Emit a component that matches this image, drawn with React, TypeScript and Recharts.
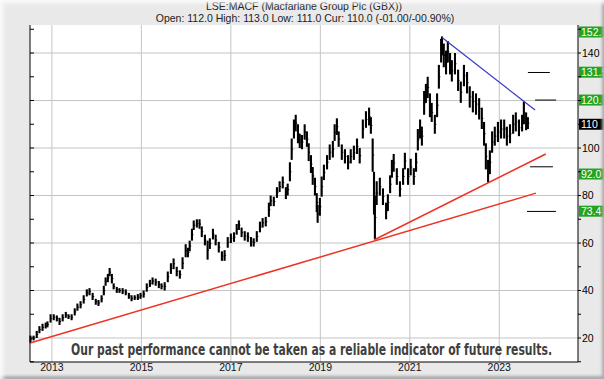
import React from 'react';
import {
  ComposedChart, Scatter, ErrorBar, XAxis, YAxis, CartesianGrid, ReferenceLine
} from 'recharts';

// price bars: [year, low, high]
const bars2012 = [
  [2012.52, 18, 21], [2012.59, 19, 21], [2012.66, 20, 23], [2012.72, 22, 25],
  [2012.79, 23, 26], [2012.86, 24, 26.5], [2012.90, 24.5, 27], [2012.97, 26.5, 30],
  [2013.04, 27.5, 30], [2013.11, 27, 29.5], [2013.17, 25.5, 28.5], [2013.24, 27, 30],
  [2013.31, 28.5, 31], [2013.37, 28, 30], [2013.44, 27.5, 30], [2013.51, 29.5, 32.5],
  [2013.57, 31.5, 34.5], [2013.64, 32.5, 35.5], [2013.71, 34.5, 38], [2013.78, 37.5, 40.5],
  [2013.84, 38, 41], [2013.91, 36, 39], [2013.98, 34, 36.5], [2014.04, 33.5, 36],
  [2014.11, 35, 38], [2014.16, 38, 42], [2014.20, 42, 45.5], [2014.25, 43.5, 47],
  [2014.29, 46, 49.5], [2014.34, 43, 47], [2014.38, 40.5, 43], [2014.45, 39, 41.5],
  [2014.51, 39, 41], [2014.58, 38.5, 41], [2014.65, 38, 40.5], [2014.72, 36.5, 39],
  [2014.78, 35.5, 38], [2014.85, 36, 38], [2014.92, 36, 38.5], [2014.98, 36.5, 39],
];

const bars2015 = [
  [2015.05, 37, 40], [2015.12, 39.5, 43], [2015.19, 41.5, 44.5], [2015.25, 42.5, 45.5],
  [2015.32, 42, 45], [2015.39, 41, 44], [2015.45, 40.5, 43], [2015.52, 40, 43.5],
  [2015.59, 43.5, 48], [2015.66, 47, 51.5], [2015.72, 49, 53.5], [2015.79, 46, 50],
  [2015.86, 45, 48.5], [2015.92, 49, 54], [2015.99, 54, 59.5], [2016.04, 54, 58],
  [2016.08, 56.5, 61], [2016.13, 61, 66], [2016.17, 65.5, 69.5], [2016.24, 66.5, 70],
  [2016.30, 66, 70], [2016.35, 62.5, 67], [2016.42, 59, 63.5], [2016.48, 53, 61],
  [2016.53, 57.5, 62], [2016.60, 61.5, 66], [2016.66, 59, 63.5], [2016.73, 56, 60.5],
  [2016.80, 52.5, 56.5], [2016.86, 52.5, 57], [2016.93, 58, 62.5], [2017.00, 60, 64],
  [2017.07, 60.5, 64.5], [2017.13, 63.5, 68], [2017.18, 65.5, 69.5], [2017.24, 62.5, 66.5],
  [2017.31, 61, 65], [2017.38, 60.5, 64.5], [2017.45, 58.5, 62.5], [2017.51, 58.5, 62],
  [2017.58, 60.5, 65], [2017.65, 64.5, 69], [2017.71, 66.5, 70.5], [2017.78, 67, 71],
  [2017.85, 71, 77], [2017.89, 75.5, 80], [2017.96, 75.5, 79.5],
];

const bars2018 = [
  [2018.03, 79, 83.5], [2018.09, 81.5, 86], [2018.16, 83, 88], [2018.23, 78.5, 83.5],
  [2018.27, 80, 85], [2018.32, 86, 94], [2018.36, 95, 104], [2018.41, 104, 112],
  [2018.45, 107, 114], [2018.50, 102, 110], [2018.54, 100, 106], [2018.59, 99.5, 105.5],
  [2018.65, 103.5, 110], [2018.70, 100.5, 107], [2018.74, 94.5, 102], [2018.79, 89.5, 97],
  [2018.83, 84.5, 92], [2018.88, 80, 87.5], [2018.92, 73, 81], [2018.94, 68.5, 76],
  [2018.99, 71.5, 79], [2019.03, 79.5, 88], [2019.08, 86.5, 93], [2019.15, 91, 97],
  [2019.21, 95, 101.5], [2019.28, 96, 103], [2019.32, 103, 110], [2019.37, 105.5, 112.5],
  [2019.41, 100.5, 107], [2019.48, 95, 101.5], [2019.55, 93.5, 99.5], [2019.62, 91, 97],
  [2019.68, 93.5, 99.5], [2019.75, 95, 101], [2019.82, 97.5, 104], [2019.88, 93.5, 100],
  [2019.95, 104, 112], [2020.02, 108.5, 115.5], [2020.09, 109.5, 117], [2020.13, 106, 113],
  [2020.17, 90, 104], [2020.20, 72, 90], [2020.22, 61.5, 80], [2020.26, 76, 86],
  [2020.33, 80, 87.5], [2020.40, 76, 83], [2020.47, 70, 77], [2020.51, 73.5, 80.5],
  [2020.56, 81, 88.5], [2020.60, 87.5, 95], [2020.64, 90, 97.5], [2020.71, 84.5, 91.5],
  [2020.78, 79.5, 86], [2020.85, 84.5, 91.5], [2020.89, 91, 98], [2020.96, 84.5, 91.5],
];

const bars2021 = [
  [2021.02, 88.5, 95.5], [2021.09, 84.5, 91.5], [2021.14, 90, 98], [2021.18, 99, 108],
  [2021.23, 104, 112], [2021.27, 101, 109], [2021.32, 114, 124], [2021.36, 119, 127],
  [2021.40, 121, 130], [2021.45, 113, 123], [2021.49, 111, 119], [2021.56, 106, 114],
  [2021.61, 113, 123], [2021.65, 125, 135], [2021.70, 136, 146], [2021.72, 139, 147],
  [2021.76, 134, 144], [2021.81, 131, 141], [2021.85, 136, 145], [2021.90, 131, 140],
  [2021.94, 128, 137], [2022.01, 131, 140], [2022.08, 124, 133], [2022.14, 119, 128],
  [2022.21, 126, 135], [2022.28, 123, 132], [2022.34, 117, 126], [2022.41, 115, 124],
  [2022.48, 114, 123], [2022.55, 112, 121], [2022.61, 108, 117], [2022.66, 101, 111],
  [2022.70, 91, 102], [2022.75, 85.5, 95], [2022.79, 89, 99], [2022.84, 98, 107],
  [2022.90, 101, 109], [2022.97, 102.5, 111], [2023.04, 104, 112], [2023.11, 104, 112],
  [2023.17, 101, 109], [2023.24, 102, 110], [2023.31, 106, 114], [2023.37, 107, 115],
  [2023.44, 105, 112], [2023.51, 107, 114], [2023.55, 110, 119.5], [2023.60, 107.5, 115],
  [2023.64, 108, 113],
];

const yearTicks = [2013, 2015, 2017, 2019, 2021, 2023];
const priceTicks = [10, 20, 30, 40, 50, 60, 70, 80, 90, 100, 110, 120, 130, 140, 150];
const priceLabelled = [20, 40, 60, 80, 100, 140];
const gridPrices = [20, 40, 60, 80, 100, 120, 140];

// trend lines, in [year, price]
const supportLong = [{ x: 2012.51, y: 17.9 }, { x: 2023.82, y: 81 }];
const supportShort = [{ x: 2020.22, y: 61.5 }, { x: 2024.04, y: 97.5 }];
const resistance = [{ x: 2021.72, y: 146.5 }, { x: 2023.80, y: 116 }];

const targets = [
  { value: 131.8, from: 2023.64, to: 2024.13 },
  { value: 120.2, from: 2023.80, to: 2024.27 },
  { value: 92.1, from: 2023.69, to: 2024.20 },
  { value: 73.3, from: 2023.62, to: 2024.27 },
];

const GREEN = '#22a322';
const priceLabels = [
  { value: 151.8, text: '152.', color: GREEN, dy: 7 },
  { value: 131.5, text: '131.5', color: GREEN, dy: -1 },
  { value: 120.2, text: '120.', color: GREEN, dy: 0 },
  { value: 110, text: '110', color: '#000', dy: 0 },
  { value: 92.0, text: '92.0', color: GREEN, dy: 7 },
  { value: 73.4, text: '73.4', color: GREEN, dy: 0 },
];

const X_DOMAIN = [2012.51, 2024.76];
const Y_DOMAIN = [9.9, 151.8];
const FONT = '"Liberation Sans", Arial, sans-serif';

const barData = [...bars2012, ...bars2015, ...bars2018, ...bars2021].map(([t, lo, hi]) => ({
  t,
  mid: (lo + hi) / 2,
  err: (hi - lo) / 2,
}));

const closeTick = (p: any) => (
  <line x1={p.cx} x2={p.cx + 1.5} y1={p.cy} y2={p.cy} stroke="#000" strokeWidth={1} />
);

// only the round 20s get a label; 120 sits under the green box
const PriceTick = (p: any) => {
  const v = p.payload.value;
  if (!priceLabelled.includes(v)) return <g />;
  return (
    <text x={p.x} y={p.y} dy="0.355em" textAnchor="start" fontSize={10.5} fill="#000" fontFamily={FONT}>
      {v}
    </text>
  );
};

const boxLabel = (text: string, color: string, dy: number) => (props: any) => {
  const vb = props.viewBox;
  const x = vb.x + vb.width;
  const y = vb.y + dy;
  return (
    <g>
      <rect x={x + 1} y={y - 5.5} width={27} height={11} fill={color} />
      <text x={x + 3} y={y + 4} fill="#fff" fontSize={10.5} fontFamily={FONT}>{text}</text>
    </g>
  );
};

export default function App() {
  return (
    <div style={{ position: 'relative', width: 604, height: 379, background: '#e9e9e9', overflow: 'hidden' }}>
      <style>{'body{margin:0}'}</style>
      <ComposedChart width={604} height={379} margin={{ top: 25, right: 0, bottom: 0, left: 30 }}>
        <CartesianGrid
          yAxisId="r"
          fill="#fff"
          stroke="#c4c4c4"
          horizontalValues={gridPrices}
          verticalValues={yearTicks}
        />
        <XAxis
          dataKey="t"
          type="number"
          domain={X_DOMAIN}
          ticks={yearTicks}
          allowDataOverflow
          tickLine={false}
          tickSize={0}
          tickMargin={2}
          height={17}
          axisLine={{ stroke: '#000' }}
          tick={{ fontSize: 10.5, fill: '#111', fontFamily: FONT }}
        />
        <XAxis
          xAxisId="top"
          orientation="top"
          type="number"
          domain={X_DOMAIN}
          allowDataOverflow
          tick={false}
          tickLine={false}
          height={0}
          axisLine={{ stroke: '#000' }}
        />
        <YAxis
          yAxisId="r"
          orientation="right"
          type="number"
          domain={Y_DOMAIN}
          allowDataOverflow
          ticks={priceTicks}
          width={26}
          tickSize={3}
          tickMargin={1}
          axisLine={{ stroke: '#000' }}
          tickLine={{ stroke: '#000' }}
          tick={<PriceTick />}
        />
        <YAxis
          yAxisId="l"
          orientation="left"
          mirror
          type="number"
          domain={Y_DOMAIN}
          allowDataOverflow
          ticks={priceTicks}
          tick={() => <g />}
          tickSize={4}
          axisLine={{ stroke: '#000' }}
          tickLine={{ stroke: '#000' }}
        />
        <Scatter
          yAxisId="r"
          data={barData}
          dataKey="mid"
          shape={closeTick}
          isAnimationActive={false}
        >
          <ErrorBar dataKey="err" direction="y" width={0} stroke="#000" strokeWidth={2.1} isAnimationActive={false} />
        </Scatter>
        <ReferenceLine yAxisId="r" segment={supportLong} stroke="#ee3324" strokeWidth={1.5} ifOverflow="visible" />
        <ReferenceLine yAxisId="r" segment={supportShort} stroke="#ee3324" strokeWidth={1.5} ifOverflow="visible" />
        <ReferenceLine yAxisId="r" segment={resistance} stroke="#3838c8" strokeWidth={1.2} ifOverflow="visible" />
        {targets.map((m) => (
          <ReferenceLine
            key={m.value}
            yAxisId="r"
            segment={[{ x: m.from, y: m.value }, { x: m.to, y: m.value }]}
            stroke="#000"
            strokeWidth={1}
            ifOverflow="visible"
          />
        ))}
        {priceLabels.map((l) => (
          <ReferenceLine
            key={l.text}
            yAxisId="r"
            y={l.value}
            stroke="none"
            ifOverflow="visible"
            label={boxLabel(l.text, l.color, l.dy)}
          />
        ))}
      </ComposedChart>
      <svg width={604} height={379} style={{ position: 'absolute', left: 0, top: 0, pointerEvents: 'none' }}>
        <text x={304} y={10} textAnchor="middle" fontSize={10.5} fill="#222" fontFamily={FONT}>
          LSE:MACF (Macfarlane Group Plc (GBX))
        </text>
        <text x={305} y={22} textAnchor="middle" fontSize={10.5} fill="#222" fontFamily={FONT}>
          Open: 112.0 High: 113.0 Low: 111.0 Cur: 110.0 (-01.00/-00.90%)
        </text>
        <text
          x={71}
          y={355}
          fontSize={15}
          fontWeight="bold"
          fill="#404040"
          fontFamily='"Liberation Sans Narrow", "DejaVu Sans Condensed", Arial, sans-serif'
          textLength={481}
          lengthAdjust="spacingAndGlyphs"
        >
          Our past performance cannot be taken as a reliable indicator of future results.
        </text>
      </svg>
      <div
        style={{
          position: 'absolute', left: 0, top: 0, width: 604, height: 379, pointerEvents: 'none',
          boxSizing: 'border-box',
          boxShadow: 'inset 3px 3px 4px #fbfbfb, inset -2px -3px 3px #a9a9a9',
        }}
      />
    </div>
  );
}
